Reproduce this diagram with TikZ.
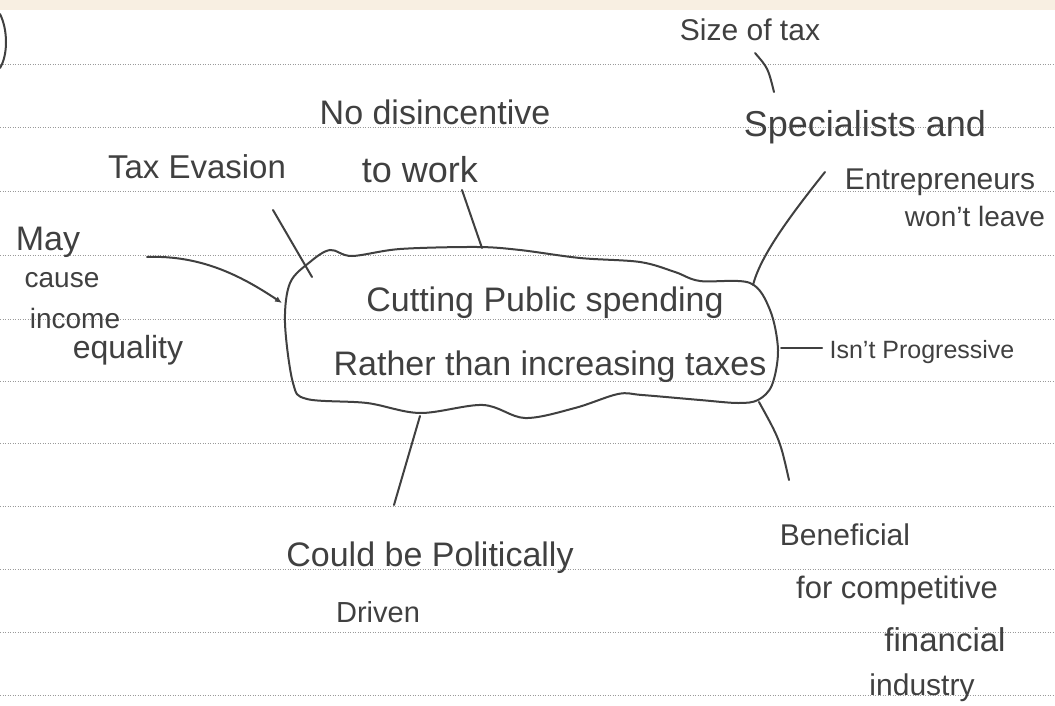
\documentclass[tikz,border=0pt]{standalone}
\usepackage{fontspec}
\setmainfont{Liberation Sans}
\usetikzlibrary{arrows.meta}
\definecolor{ink}{HTML}{404040}
\definecolor{paper}{HTML}{F8EFE2}
\definecolor{rulecol}{HTML}{9A9A9A}
\tikzset{
  lbl/.style={text=ink, inner sep=0pt, font=\fontsize{#1}{#1}\selectfont},
  lbl/.default=32,
  link/.style={draw=ink, line width=2pt, line cap=round},
  arr/.style={link, -{Latex[length=7pt,width=6pt]}},
  ruled/.style={draw=rulecol, line width=1pt, dash pattern=on 1pt off 1.5pt},
  cloudline/.style={draw=ink, line width=2pt},
}
\begin{document}
\begin{tikzpicture}[x=1pt,y=-1pt]
\useasboundingbox (0,0) rectangle (1055,706);
\fill[white] (0,0) rectangle (1055,706);
\fill[paper] (0,0) rectangle (1055,10);
\foreach \yy in {65,128,191,255,319,381,443,506,569,632,695}
  \draw[ruled] (0,\yy) -- (1055,\yy);

% partial bracket at left edge
\draw[link] (0,14) .. controls (8,30) and (8,55) .. (0,68);

% central cloud
\draw[cloudline] plot[smooth cycle, tension=0.55] coordinates {
 (310,262) (330,250) (352,256) (400,249) (477,247) (520,250) (580,258)
 (640,262) (675,272) (700,281) (750,283) (770,310) (778,350) (772,385)
 (758,400) (738,403) (700,400) (642,395) (618,394) (575,408) (525,418)
 (483,405) (420,413) (367,403) (307,399) (293,383) (285,323) (290,283)};

\node[lbl=34] (central1) at (545,303) {Cutting Public spending};
\node[lbl=34] (central2) at (550,367) {Rather than increasing taxes};

% cloud attach points
\coordinate (cT) at (482,248);
\coordinate (cTL) at (312,277);
\coordinate (cL) at (282,303);
\coordinate (cTR) at (753,285);
\coordinate (cR) at (781,348);
\coordinate (cBR) at (759,402);
\coordinate (cB) at (420,416);

% labels
\node[lbl=30] (size) at (750,30) {Size of tax};
\node[lbl=34] (nodis) at (435,112) {No disincentive};
\node[lbl=33] (evasion) at (197,167) {Tax Evasion};
\node[lbl=36] (work) at (420,170) {to work};
\node[lbl=36] (spec) at (865,127) {Specialists and};
\node[lbl=30] (entre) at (940,182) {Entrepreneurs};
\node[lbl=28] (leave) at (975,216) {won't leave};
\node[lbl=34] (may) at (48,242) {May};
\node[lbl=28] (cause) at (62,280) {cause};
\node[lbl=28] (income) at (75,318) {income};
\node[lbl=32] (equality) at (128,350) {equality};
\node[lbl=25] (prog) at (922,352) {Isn't Progressive};
\node[lbl=34] (pol) at (430,558) {Could be Politically};
\node[lbl=29] (driven) at (378,612) {Driven};
\node[lbl=30] (bene) at (845,535) {Beneficial};
\node[lbl=31] (compet) at (897,590) {for competitive};
\node[lbl=33] (fin) at (945,640) {financial};
\node[lbl=30] (ind) at (922,688) {industry};

% connector free ends near the labels
\coordinate (sizeEnd) at (755,53);
\coordinate (specEnd) at (774,92);
\coordinate (workEnd) at (462,190);
\coordinate (evEnd) at (273,210);
\coordinate (mayEnd) at (147,257);
\coordinate (entreEnd) at (825,172);
\coordinate (progEnd) at (822,348);
\coordinate (beneEnd) at (789,480);
\coordinate (polEnd) at (394,505);

\draw[link] (sizeEnd) .. controls (768,68) .. (specEnd);
\draw[link] (workEnd) -- (cT);
\draw[link] (evEnd) -- (cTL);
\draw[arr] (mayEnd) .. controls (200,255) and (240,275) .. (cL);
\draw[link] (entreEnd) .. controls (785,222) and (760,258) .. (cTR);
\draw[link] (cR) -- (progEnd);
\draw[link] (beneEnd) .. controls (780,440) .. (cBR);
\draw[link] (cB) -- (polEnd);
\end{tikzpicture}
\end{document}
